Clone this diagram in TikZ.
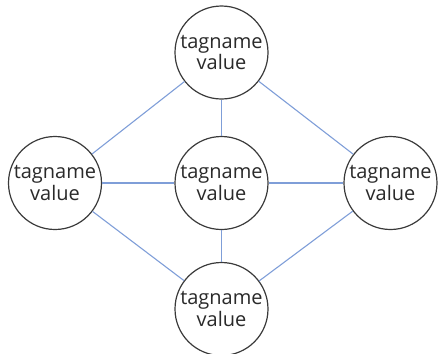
\documentclass[tikz,border=0pt]{standalone}
\usepackage{fontspec}
\setmainfont{Open Sans}
\definecolor{edgeblue}{HTML}{7F9ED8}
\definecolor{rimgray}{HTML}{3A3A3A}
\definecolor{inkgray}{HTML}{2A2A2A}
\begin{document}
\begin{tikzpicture}[x=1pt,y=-1pt,
  tagnode/.style={circle, draw=rimgray, line width=1.2pt, fill=white,
    minimum size=93pt, inner sep=0pt,
    align=center, text=inkgray,
    font=\fontsize{20}{21.5}\selectfont},
  link/.style={draw=edgeblue, line width=1.1pt}]
  \useasboundingbox (0,0) rectangle (440,354);
  \node[tagnode] (top)    at (221.5,52.5) {tagname\\value};
  \node[tagnode] (left)   at (55,183)     {tagname\\value};
  \node[tagnode] (mid)    at (221.5,183)  {tagname\\value};
  \node[tagnode] (right)  at (390.5,183)  {tagname\\value};
  \node[tagnode] (bottom) at (221.5,309)  {tagname\\value};
  \path[link] (top) -- (left);
  \path[link] (top) -- (mid);
  \path[link] (top) -- (right);
  \path[link] (left) -- (mid);
  \path[link] (mid) -- (right);
  \path[link] (left) -- (bottom);
  \path[link] (mid) -- (bottom);
  \path[link] (right) -- (bottom);
\end{tikzpicture}
\end{document}
